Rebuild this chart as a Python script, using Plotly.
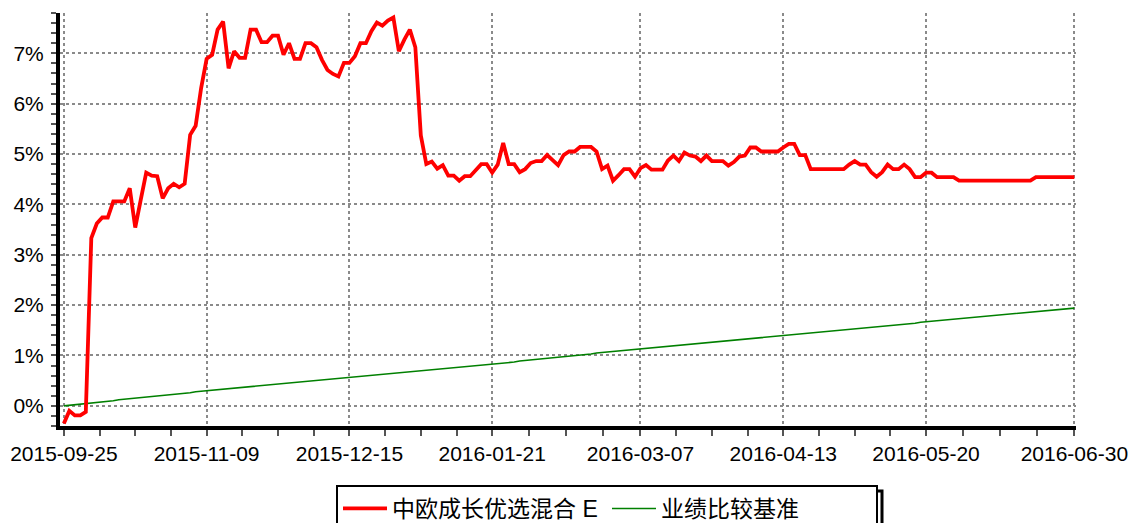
import pandas as pd
import plotly.graph_objects as go

# ---- data ----
holidays = ["2015-10-01", "2015-10-02", "2015-10-05", "2015-10-06", "2015-10-07",
            "2016-01-01", "2016-02-08", "2016-02-09", "2016-02-10", "2016-02-11",
            "2016-02-12", "2016-04-04", "2016-05-02", "2016-06-09", "2016-06-10"]
days = pd.bdate_range("2015-09-25", "2016-06-30")
dates = [d.strftime("%Y-%m-%d") for d in days if d.strftime("%Y-%m-%d") not in holidays]

fund_name = "中欧成长优选混合 E"
bench_name = "业绩比较基准"

fund_values = [
    -0.35, -0.10, -0.19, -0.19, -0.12, 3.33, 3.62, 3.74, 3.74, 4.06,
    4.06, 4.06, 4.32, 3.54, 4.09, 4.63, 4.57, 4.56, 4.12, 4.32,
    4.41, 4.34, 4.41, 5.38, 5.56, 6.31, 6.89, 6.97, 7.47, 7.63,
    6.70, 7.04, 6.91, 6.91, 7.47, 7.47, 7.22, 7.22, 7.35, 7.35,
    6.97, 7.20, 6.89, 6.89, 7.20, 7.20, 7.12, 6.87, 6.67, 6.59,
    6.54, 6.81, 6.81, 6.94, 7.20, 7.20, 7.44, 7.61, 7.55, 7.65,
    7.71, 7.04, 7.27, 7.47, 7.12, 5.37, 4.80, 4.85, 4.71, 4.78,
    4.57, 4.57, 4.47, 4.56, 4.56, 4.67, 4.80, 4.80, 4.63, 4.79,
    5.22, 4.80, 4.80, 4.64, 4.70, 4.82, 4.86, 4.86, 4.98, 4.88,
    4.78, 4.98, 5.05, 5.05, 5.14, 5.14, 5.14, 5.05, 4.70, 4.77,
    4.47, 4.58, 4.70, 4.70, 4.55, 4.72, 4.78, 4.69, 4.69, 4.69,
    4.87, 4.97, 4.86, 5.03, 4.97, 4.95, 4.86, 4.97, 4.86, 4.86,
    4.86, 4.77, 4.84, 4.95, 4.97, 5.13, 5.13, 5.05, 5.05, 5.05,
    5.05, 5.13, 5.20, 5.20, 4.98, 4.98, 4.70, 4.70, 4.70, 4.70,
    4.70, 4.70, 4.70, 4.79, 4.86, 4.79, 4.79, 4.64, 4.55, 4.64,
    4.79, 4.70, 4.70, 4.79, 4.70, 4.54, 4.54, 4.63, 4.63, 4.54,
    4.54, 4.54, 4.54, 4.47, 4.47, 4.47, 4.47, 4.47, 4.47, 4.47,
    4.47, 4.47, 4.47, 4.47, 4.47, 4.47, 4.47, 4.54, 4.54, 4.54,
    4.54, 4.54, 4.54, 4.54, 4.54,
]

bench_values = [
    0.00, 0.01, 0.02, 0.03, 0.05, 0.06, 0.07, 0.08, 0.09, 0.10,
    0.12, 0.13, 0.14, 0.15, 0.16, 0.17, 0.18, 0.20, 0.21, 0.22,
    0.23, 0.24, 0.25, 0.26, 0.28, 0.29, 0.30, 0.31, 0.32, 0.33,
    0.34, 0.35, 0.36, 0.37, 0.38, 0.39, 0.40, 0.41, 0.42, 0.43,
    0.44, 0.45, 0.46, 0.47, 0.48, 0.49, 0.50, 0.51, 0.52, 0.53,
    0.54, 0.55, 0.56, 0.57, 0.58, 0.59, 0.60, 0.61, 0.62, 0.63,
    0.64, 0.65, 0.66, 0.67, 0.68, 0.69, 0.71, 0.72, 0.73, 0.74,
    0.75, 0.76, 0.77, 0.78, 0.79, 0.80, 0.81, 0.82, 0.83, 0.84,
    0.85, 0.86, 0.87, 0.89, 0.90, 0.91, 0.92, 0.93, 0.94, 0.95,
    0.97, 0.98, 0.99, 1.00, 1.01, 1.02, 1.03, 1.05, 1.06, 1.07,
    1.08, 1.09, 1.10, 1.11, 1.13, 1.14, 1.15, 1.16, 1.17, 1.18,
    1.19, 1.20, 1.21, 1.22, 1.23, 1.24, 1.25, 1.26, 1.27, 1.28,
    1.29, 1.30, 1.31, 1.32, 1.33, 1.34, 1.35, 1.36, 1.37, 1.38,
    1.39, 1.40, 1.41, 1.42, 1.43, 1.44, 1.45, 1.46, 1.47, 1.48,
    1.49, 1.50, 1.51, 1.52, 1.53, 1.54, 1.55, 1.56, 1.57, 1.58,
    1.59, 1.60, 1.61, 1.62, 1.63, 1.64, 1.66, 1.67, 1.68, 1.69,
    1.70, 1.71, 1.72, 1.73, 1.74, 1.75, 1.76, 1.77, 1.78, 1.79,
    1.80, 1.81, 1.82, 1.83, 1.84, 1.85, 1.86, 1.87, 1.88, 1.89,
    1.90, 1.91, 1.92, 1.93, 1.94,
]

tick_labels = ["2015-09-25", "2015-11-09", "2015-12-15", "2016-01-21",
               "2016-03-07", "2016-04-13", "2016-05-20", "2016-06-30"]
y_ticks = [0, 1, 2, 3, 4, 5, 6, 7]

# ---- positions ----
n = min(len(dates), len(fund_values), len(bench_values))
dates = dates[:n]
fund_values = fund_values[:n]
bench_values = bench_values[:n]
pos = list(range(n))
tick_pos = [dates.index(t) if t in dates else n - 1 for t in tick_labels]
minor_pos = []
for a, b in zip(tick_pos[:-1], tick_pos[1:]):
    for k in (1, 2, 3):
        minor_pos.append(a + (b - a) * k / 4)

FONT = "Liberation Sans, Arial, Noto Sans CJK SC, sans-serif"
W, H = 1130, 523
# plot area in page pixels: left 60, right 1076, top 13, bottom 426
ML, MR, MT, MB = 60, W - 1076, 13, H - 426
PW, PH = W - ML - MR, H - MT - MB


def px_x(p):
    return (p - ML) / PW


def px_y(p):
    return (H - MB - p) / PH


fig = go.Figure()
fig.add_trace(go.Scatter(
    x=pos, y=bench_values, mode="lines", name=bench_name,
    line=dict(color="#008000", width=1.6), legendrank=2,
    customdata=dates, hovertemplate="%{customdata}: %{y:.2f}%<extra></extra>",
))
fig.add_trace(go.Scatter(
    x=pos, y=fund_values, mode="lines", name=fund_name,
    line=dict(color="#ff0000", width=3.8), legendrank=1,
    customdata=dates, hovertemplate="%{customdata}: %{y:.2f}%<extra></extra>",
))

# legend drop shadow (right/bottom edge)
fig.add_shape(type="rect", xref="paper", yref="paper",
              x0=px_x(341), x1=px_x(882), y0=px_y(528), y1=px_y(491),
              line=dict(color="#000000", width=3), fillcolor="white", layer="above")

fig.update_layout(
    width=W, height=H,
    margin=dict(l=ML, r=MR, t=MT, b=MB, autoexpand=False),
    paper_bgcolor="white", plot_bgcolor="white",
    font=dict(family=FONT, size=21, color="#000000"),
    showlegend=True,
    legend=dict(
        orientation="h", x=px_x(336), xanchor="left", y=px_y(485), yanchor="top",
        bordercolor="#000000", borderwidth=2, bgcolor="white",
        font=dict(family=FONT, size=23, color="#000000"),
        itemwidth=44, entrywidth=210,
    ),
    xaxis=dict(
        range=[-0.7, n - 1 + 0.3], automargin=False,
        tickmode="array", tickvals=tick_pos, ticktext=tick_labels,
        showgrid=True, gridcolor="#8a8a8a", griddash="dot", gridwidth=1.5,
        zeroline=False,
        showline=True, linecolor="#000000", linewidth=4,
        ticks="outside", ticklen=6, tickcolor="#555555", tickwidth=1.5,
        ticklabelstandoff=0,
        minor=dict(tickmode="array", tickvals=minor_pos, ticks="outside",
                   ticklen=6, tickcolor="#555555", tickwidth=1.5, showgrid=False),
        tickfont=dict(size=21),
    ),
    yaxis=dict(
        range=[-0.40, 7.80], automargin=False,
        tickmode="array", tickvals=y_ticks, ticktext=[f"{v}%" for v in y_ticks],
        showgrid=True, gridcolor="#8a8a8a", griddash="dot", gridwidth=1.5,
        zeroline=False,
        showline=True, linecolor="#000000", linewidth=4,
        ticks="outside", ticklen=5, tickcolor="#555555", tickwidth=1.5,
        ticklabelstandoff=3,
        minor=dict(dtick=0.2, tick0=0, ticks="outside", ticklen=5,
                   tickcolor="#555555", tickwidth=1.5, showgrid=False),
        tickfont=dict(size=21),
    ),
)

fig.write_html(
    "out.html",
    config={"displayModeBar": False},
    post_script="document.body.style.margin='0';"
                "document.documentElement.style.overflow='hidden';"
                "document.body.style.overflow='hidden';",
)
